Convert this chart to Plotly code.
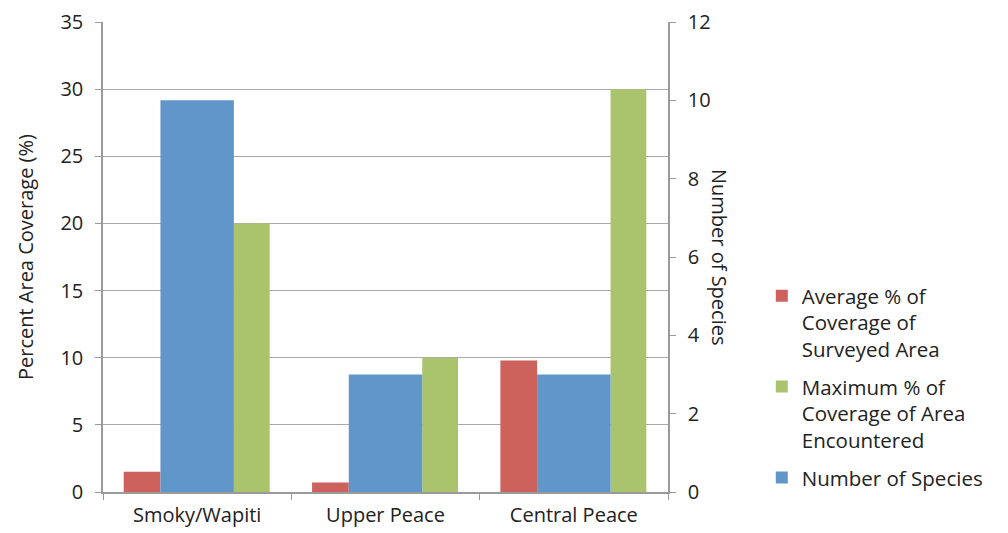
import plotly.graph_objects as go

categories = ["Smoky/Wapiti", "Upper Peace", "Central Peace"]
avg_pct = [1.5, 0.7, 9.8]
max_pct = [20, 10, 30]
num_species = [10, 3, 3]
names = ["Average % of<br>Coverage of<br>Surveyed Area",
         "Maximum % of<br>Coverage of Area<br>Encountered",
         "Number of Species"]
left_ticks = [0, 5, 10, 15, 20, 25, 30, 35]
right_ticks = [0, 2, 4, 6, 8, 10, 12]

red = "#CD625C"
green = "#A9C46C"
blue = "#6096C9"
font = "Open Sans"
txt = "#222"

fig = go.Figure()
fig.add_trace(go.Bar(x=categories, y=avg_pct, name=names[0], marker_color=red,
                     marker_line_width=0, offset=-0.39, width=0.195, legendrank=1,
                     legendgroup="a"))
fig.add_trace(go.Bar(x=categories, y=num_species, name=names[2], marker_color=blue,
                     marker_line_width=0, offset=-0.195, width=0.39, yaxis="y2", legendrank=3,
                     legendgroup="c"))
fig.add_trace(go.Bar(x=categories, y=max_pct, name=names[1], marker_color=green,
                     marker_line_width=0, offset=0.195, width=0.19, legendrank=2,
                     legendgroup="b"))

axis_common = dict(showline=True, linecolor="#9a9a9a", linewidth=1.5, ticks="outside",
                   ticklen=6, tickcolor="#9a9a9a", zeroline=False, automargin=False,
                   ticklabeloverflow="allow")

fig.update_layout(
    width=1000, height=525,
    margin=dict(l=95, r=340, t=14, b=41),
    paper_bgcolor="white", plot_bgcolor="white",
    barmode="overlay",
    font=dict(family=font, size=20, color=txt),
    xaxis=dict(type="category", tickson="boundaries", tickfont=dict(size=20),
               showgrid=False, ticklabelstandoff=4, **axis_common),
    yaxis=dict(range=[0, 35], tickvals=left_ticks, showgrid=True, gridcolor="#a8a8a8",
               gridwidth=1.2, ticklabelstandoff=8, **axis_common),
    yaxis2=dict(range=[0, 12], tickvals=right_ticks, overlaying="y", side="right",
                showgrid=False, ticklabelstandoff=8, **axis_common),
    legend=dict(x=1.166, y=0.46, xanchor="left", yanchor="top", font=dict(size=20.5),
                tracegroupgap=8, itemwidth=30, valign="top", bgcolor="rgba(0,0,0,0)"),
    annotations=[
        dict(text="Percent Area Coverage (%)", xref="paper", yref="paper",
             x=-0.138, y=0.5, xanchor="center", yanchor="middle", textangle=-90,
             showarrow=False, font=dict(size=20, family=font, color=txt)),
        dict(text="Number of Species", xref="paper", yref="paper",
             x=1.092, y=0.5, xanchor="center", yanchor="middle", textangle=90,
             showarrow=False, font=dict(size=20, family=font, color=txt)),
    ],
)

fig.write_html("out.html")
